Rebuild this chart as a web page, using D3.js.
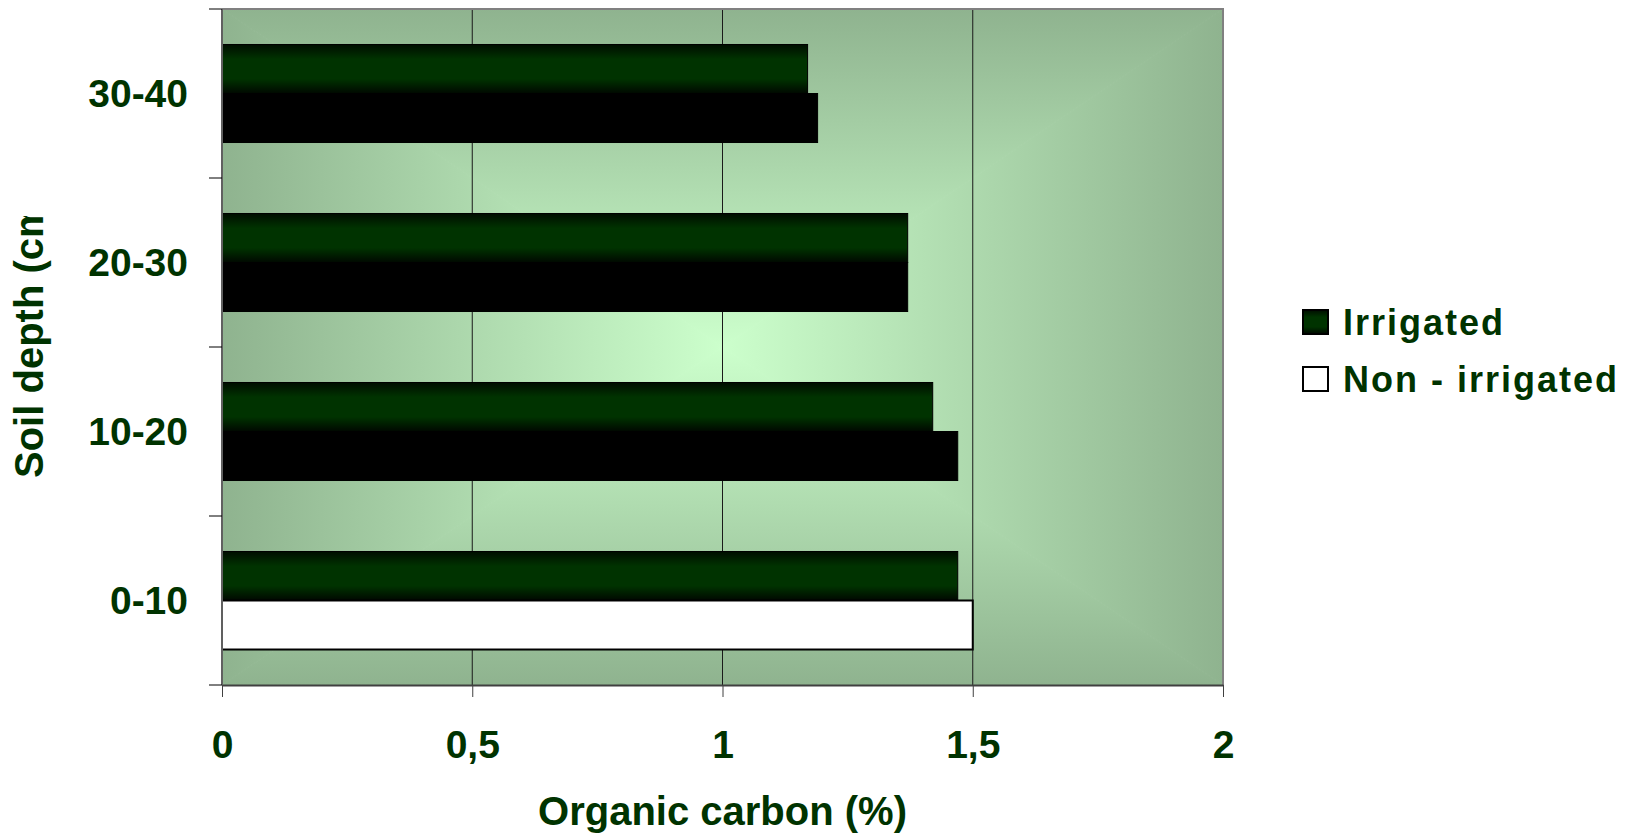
<!DOCTYPE html>
<html>
<head>
<meta charset="utf-8">
<script src="https://cdn.jsdelivr.net/npm/d3@7"></script>
<style>
  body { margin: 0; background: #fff; }
  text { font-family: "Liberation Sans", Arial, sans-serif; font-weight: bold; fill: #003300; }
</style>
</head>
<body>
<script>
// Daten
const categories = ["0-10", "10-20", "20-30", "30-40"]
const seriesNames = ["Irrigated", "Non - irrigated"]
const irrigated = [1.47, 1.42, 1.37, 1.17]
const nonIrrigated = [1.50, 1.47, 1.37, 1.19]
const xTicks = [0, 0.5, 1, 1.5, 2]
const xTickLabels = ["0", "0,5", "1", "1,5", "2"]

const width = 1639
const height = 833
const plot = { left: 222, right: 1223, top: 9, bottom: 685 }

const svg = d3.select("body").append("svg")
    .attr("width", width)
    .attr("height", height)

const defs = svg.append("defs")

// Scales
const x = d3.scaleLinear().domain([0, 2]).range([plot.left, plot.right])
const y = d3.scaleBand()
    .domain(categories.slice().reverse())
    .range([plot.top, plot.bottom])
    .paddingInner(0.42)
    .paddingOuter(0.21)
const ySub = d3.scaleBand().domain(seriesNames).range([0, y.bandwidth()])

// Hintergrund: rechteckiger Verlauf von der Mitte aus
const cx = (plot.left + plot.right) / 2
const cy = (plot.top + plot.bottom) / 2
const edge = "#8fb38f", mid = "#ccffcc"
const sides = [
    { id: "gTop", pts: [[plot.left, plot.top], [plot.right, plot.top]], from: [cx, plot.top] },
    { id: "gBottom", pts: [[plot.left, plot.bottom], [plot.right, plot.bottom]], from: [cx, plot.bottom] },
    { id: "gLeft", pts: [[plot.left, plot.top], [plot.left, plot.bottom]], from: [plot.left, cy] },
    { id: "gRight", pts: [[plot.right, plot.top], [plot.right, plot.bottom]], from: [plot.right, cy] }
]
sides.forEach(s => {
    const g = defs.append("linearGradient")
        .attr("id", s.id)
        .attr("gradientUnits", "userSpaceOnUse")
        .attr("x1", s.from[0]).attr("y1", s.from[1])
        .attr("x2", cx).attr("y2", cy)
    g.append("stop").attr("offset", "0%").attr("stop-color", edge)
    g.append("stop").attr("offset", "100%").attr("stop-color", mid)
    svg.append("path")
        .attr("d", d3.line()([s.pts[0], s.pts[1], [cx, cy]]) + "Z")
        .attr("fill", "url(#" + s.id + ")")
        .attr("stroke", "url(#" + s.id + ")")
        .attr("stroke-width", 1)
})

// Verlauf für grüne Balken
const barGrad = defs.append("linearGradient")
    .attr("id", "greenBar")
    .attr("x1", 0).attr("y1", 0).attr("x2", 0).attr("y2", 1)
barGrad.append("stop").attr("offset", "0%").attr("stop-color", "#000d00")
barGrad.append("stop").attr("offset", "30%").attr("stop-color", "#003300")
barGrad.append("stop").attr("offset", "70%").attr("stop-color", "#003300")
barGrad.append("stop").attr("offset", "100%").attr("stop-color", "#000800")

// Gitterlinien
svg.append("g")
    .selectAll("line")
    .data(xTicks.slice(1, -1))
    .enter()
    .append("line")
        .attr("x1", d => x(d)).attr("x2", d => x(d))
        .attr("y1", plot.top).attr("y2", plot.bottom)
        .attr("stroke", "#1a1a1a")
        .attr("stroke-width", 1)

// Rahmen oben und rechts
svg.append("path")
    .attr("d", `M${plot.left},${plot.top}H${plot.right}V${plot.bottom}`)
    .attr("fill", "none")
    .attr("stroke", "#808080")
    .attr("stroke-width", 2)

// Balken
const rows = categories.map((c, i) => ({ cat: c, values: [irrigated[i], nonIrrigated[i]] }))

const groups = svg.append("g")
    .selectAll("g")
    .data(rows)
    .enter()
    .append("g")
        .attr("transform", d => `translate(0,${y(d.cat)})`)

groups.selectAll("rect")
    .data(d => d.values.map((v, j) => ({ cat: d.cat, name: seriesNames[j], value: v })))
    .enter()
    .append("rect")
        .attr("x", x(0))
        .attr("y", d => ySub(d.name))
        .attr("width", d => x(d.value) - x(0))
        .attr("height", ySub.bandwidth())
        .attr("fill", d => d.name === "Irrigated" ? "url(#greenBar)" : (d.cat === "0-10" ? "#fff" : "#000"))
        .attr("stroke", "#000")
        .attr("stroke-width", d => d.cat === "0-10" && d.name !== "Irrigated" ? 2 : 1)

// Achsen
const xAxis = svg.append("g")
    .attr("transform", `translate(0,${plot.bottom})`)
    .call(d3.axisBottom(x).tickValues(xTicks).tickFormat((d, i) => xTickLabels[i]).tickSize(12).tickSizeOuter(0))
xAxis.select(".domain").attr("stroke", "#404040").attr("stroke-width", 2)
xAxis.selectAll(".tick line").attr("stroke", "#404040")
xAxis.selectAll(".tick text")
    .attr("y", 73).attr("dy", 0)
    .style("font-size", "39px")
    .style("fill", "#003300")
    .style("font-family", "'Liberation Sans', Arial, sans-serif")

const yAxis = svg.append("g")
yAxis.append("line")
    .attr("x1", plot.left).attr("x2", plot.left)
    .attr("y1", plot.top).attr("y2", plot.bottom)
    .attr("stroke", "#606060").attr("stroke-width", 2)

const edges = categories.map(c => y(c) - y.step() * y.paddingInner() / 2)
edges.push(y(categories[0]) + y.bandwidth() + y.step() * y.paddingInner() / 2)
yAxis.selectAll(".ytick")
    .data(edges)
    .enter()
    .append("line")
        .attr("x1", plot.left - 13).attr("x2", plot.left)
        .attr("y1", d => d).attr("y2", d => d)
        .attr("stroke", "#000").attr("stroke-width", 1)

yAxis.selectAll(".ylabel")
    .data(categories)
    .enter()
    .append("text")
        .attr("x", 188)
        .attr("y", d => y(d) + y.bandwidth() / 2 + 13)
        .attr("text-anchor", "end")
        .style("font-size", "39px")
        .text(d => d)

// Achsentitel
svg.append("text")
    .attr("x", (plot.left + plot.right) / 2)
    .attr("y", 825)
    .attr("text-anchor", "middle")
    .style("font-size", "40px")
    .text("Organic carbon (%)")

// Titel links ist im Original abgeschnitten
defs.append("clipPath").attr("id", "ytitleClip")
    .append("rect").attr("x", 0).attr("y", 216).attr("width", 80).attr("height", 400)
svg.append("g")
    .attr("clip-path", "url(#ytitleClip)")
    .append("text")
        .attr("transform", "translate(43,478) rotate(-90)")
        .style("font-size", "40px")
        .text("Soil depth (cm)")

// Legende
const legend = svg.append("g")
    .selectAll("g")
    .data(seriesNames)
    .enter()
    .append("g")
        .attr("transform", (d, i) => `translate(1303,${310 + i * 57})`)

legend.append("rect")
    .attr("width", 25).attr("height", 24)
    .attr("fill", (d, i) => i === 0 ? "url(#greenBar)" : "#fff")
    .attr("stroke", "#000")
    .attr("stroke-width", 2)

legend.append("text")
    .attr("x", 40)
    .attr("y", 25)
    .style("font-size", "36px")
    .style("letter-spacing", "2px")
    .text(d => d)
</script>
</body>
</html>
